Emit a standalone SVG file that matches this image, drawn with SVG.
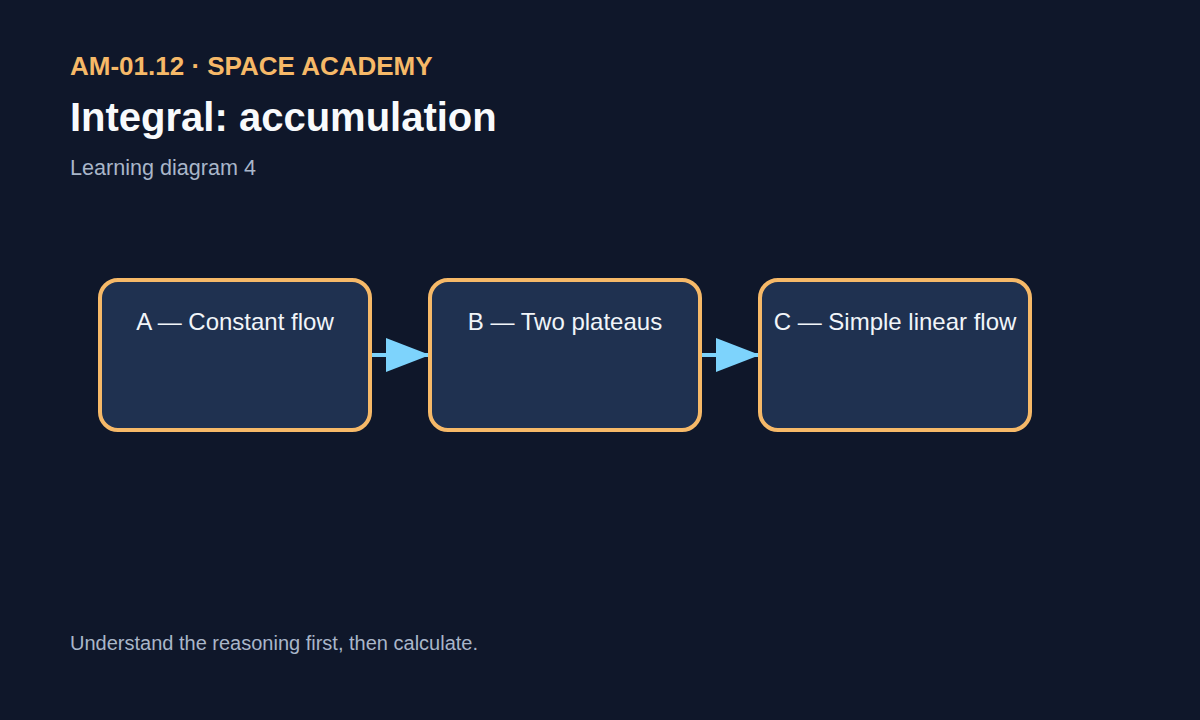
<svg xmlns="http://www.w3.org/2000/svg" width="1200" height="720" viewBox="0 0 1200 720">
<style>
.bg{fill:#0f172a}
.hdr{font-family:"Liberation Sans",Arial,sans-serif;font-weight:bold;font-size:26px;fill:#f6b968}
.ttl{font-family:"Liberation Sans",Arial,sans-serif;font-weight:bold;font-size:40px;fill:#f8fafc}
.sub{font-family:"Liberation Sans",Arial,sans-serif;font-size:21.6px;fill:#a9b6c9}
.ftr{font-family:"Liberation Sans",Arial,sans-serif;font-size:20px;fill:#a9b6c9}
.box{fill:#1f3150;stroke:#f6b968;stroke-width:4}
.lbl{font-family:"Liberation Sans",Arial,sans-serif;font-size:24px;fill:#f1f5f9;text-anchor:middle}
.edge{stroke:#7dd3fc;stroke-width:4;fill:none}
</style>
<defs>
<marker id="ah" markerUnits="userSpaceOnUse" markerWidth="44" markerHeight="34" refX="44" refY="17" orient="auto">
<path d="M0,0 L44,17 L0,34 Z" fill="#7dd3fc"/>
</marker>
</defs>
<rect class="bg" x="0" y="0" width="1200" height="720"/>
<text class="hdr" x="70" y="75">AM-01.12 · SPACE ACADEMY</text>
<text class="ttl" x="70" y="131">Integral: accumulation</text>
<text class="sub" x="70" y="175">Learning diagram 4</text>
<g id="connectors">
<line class="edge" x1="370" y1="355" x2="430" y2="355" marker-end="url(#ah)"/>
<line class="edge" x1="700" y1="355" x2="760" y2="355" marker-end="url(#ah)"/>
</g>
<g id="node-a">
<rect class="box" x="100" y="280" width="270" height="150" rx="18"/>
<text class="lbl" x="235" y="330">A — Constant flow</text>
</g>
<g id="node-b">
<rect class="box" x="430" y="280" width="270" height="150" rx="18"/>
<text class="lbl" x="565" y="330">B — Two plateaus</text>
</g>
<g id="node-c">
<rect class="box" x="760" y="280" width="270" height="150" rx="18"/>
<text class="lbl" x="895" y="330">C — Simple linear flow</text>
</g>
<text class="ftr" x="70" y="650">Understand the reasoning first, then calculate.</text>
</svg>
